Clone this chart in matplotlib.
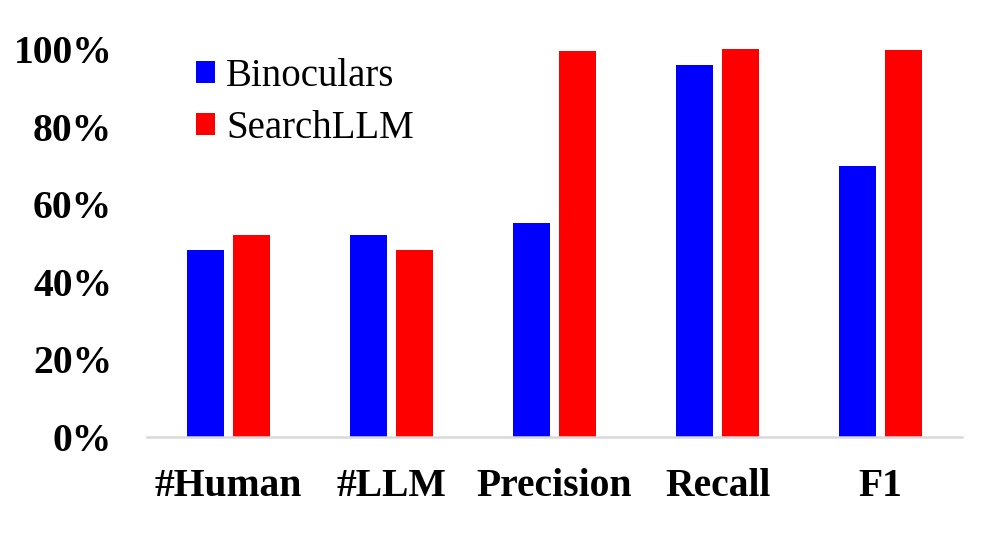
import matplotlib.pyplot as plt
import numpy as np

categories = ['#Human', '#LLM', 'Precision', 'Recall', 'F1']
binoculars = [48.2, 52.2, 55.2, 95.8, 69.8]
searchllm = [52.2, 48.2, 99.6, 100.0, 99.8]

plt.rcParams['font.family'] = 'Liberation Serif'

fig = plt.figure(figsize=(9.96, 5.34), dpi=100)
ax = fig.add_axes([147 / 996, (534 - 437) / 534, (962 - 147) / 996, 0.799])

x = np.arange(len(categories))
w = 0.227
off = 0.144
ax.bar(x - off, binoculars, w, color='#0000ff', label='Binoculars')
ax.bar(x + off, searchllm, w, color='#ff0000', label='SearchLLM')

ax.set_xlim(-0.5, 4.5)
ax.set_ylim(0, 110)
ax.set_yticks([0, 20, 40, 60, 80, 100])
ax.set_yticklabels(['%d%%' % v for v in [0, 20, 40, 60, 80, 100]],
                   fontsize=28.5, fontweight='bold')
ax.set_xticks(x)
ax.set_xticklabels(categories, fontsize=28.5, fontweight='bold')
ax.tick_params(axis='both', length=0)
ax.tick_params(axis='y', pad=25)
ax.tick_params(axis='x', pad=22)

for s in ['top', 'right', 'left']:
    ax.spines[s].set_visible(False)
ax.spines['bottom'].set_color('#d9d9d9')
ax.spines['bottom'].set_linewidth(1.8)

ax.legend(loc='upper left', bbox_to_anchor=(196 / 996, 1 - 58 / 534),
          bbox_transform=fig.transFigure, frameon=False, fontsize=28,
          handlelength=0.49, handleheight=0.49, handletextpad=0.28,
          labelspacing=0.39, borderpad=0, borderaxespad=0)

fig.savefig('out.png', dpi=100)
